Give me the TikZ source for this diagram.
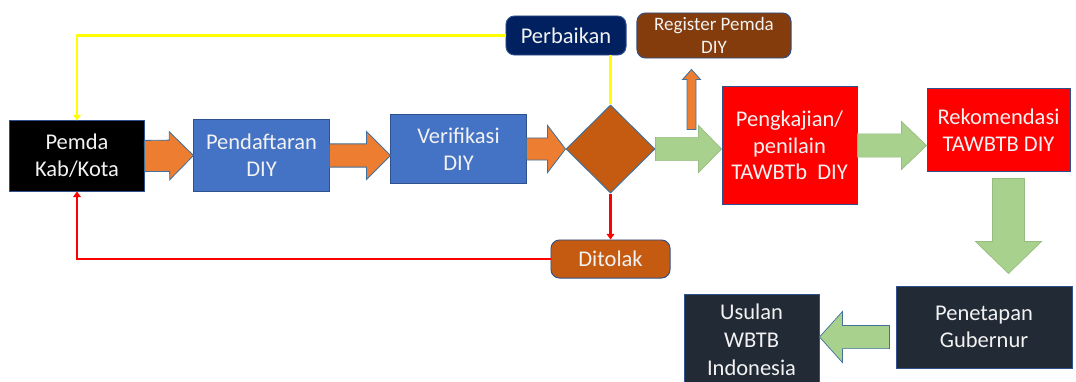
\documentclass[tikz,border=0pt]{standalone}
\usepackage{fontspec}
\setmainfont{Carlito}
\usepackage{xcolor}
\definecolor{boxBlue}{HTML}{4472C4}
\definecolor{edgeBlue}{HTML}{2F528F}
\definecolor{arrowOrange}{HTML}{ED7D31}
\definecolor{arrowEdge}{HTML}{41719C}
\definecolor{rustBrown}{HTML}{C55A11}
\definecolor{darkBrown}{HTML}{843C0C}
\definecolor{navyBlue}{HTML}{002060}
\definecolor{slateDark}{HTML}{222A35}
\definecolor{softGreen}{HTML}{A9D18E}
\definecolor{pureRed}{HTML}{FF0000}
\definecolor{pureYellow}{HTML}{FFFF00}
\definecolor{offWhite}{HTML}{F2F2F2}
\usepackage{tikz}
\usetikzlibrary{shapes, arrows.meta, positioning, calc}

% block arrow: style, start, tip, shaft half width, head half width, head length
\newcommand{\blockArrow}[6]{%
    \coordinate (ba-head) at ($(#3)!#6!(#2)$);
    \draw[#1] ($(#2)!#4!90:(#3)$) -- ($(ba-head)!#4!90:(#3)$) -- ($(ba-head)!#5!90:(#3)$)
        -- (#3) -- ($(ba-head)!#5!-90:(#3)$) -- ($(ba-head)!#4!-90:(#3)$) -- ($(#2)!#4!-90:(#3)$) -- cycle;
}

\begin{document}
\begin{tikzpicture}[
        x=0.025cm, y=-0.025cm,
        baseBox/.style={
            draw=edgeBlue,
            line width=0.7pt,
            inner sep=0pt,
            align=center,
            text=offWhite,
            font=\fontsize{16}{19}\selectfont
        },
        blueBox/.style={baseBox, fill=boxBlue},
        redBox/.style={baseBox, fill=pureRed},
        darkBox/.style={baseBox, fill=slateDark},
        pillBox/.style={baseBox, rounded corners=6pt},
        decisionNode/.style={
            diamond,
            draw=arrowEdge,
            line width=0.7pt,
            fill=rustBrown,
            inner sep=0pt,
            shape aspect=1,
            minimum width=2.225cm,
            minimum height=2.2cm
        },
        orangeArrow/.style={fill=arrowOrange, draw=arrowEdge, line width=0.6pt},
        greenArrow/.style={fill=softGreen, draw=softGreen!90!black, line width=0.5pt},
        returnLine/.style={
            line width=1.7pt,
            -{Triangle[length=4pt, width=5.5pt]}
        }
    ]
    \useasboundingbox (0,0) rectangle (1076,381);

    % Positions (pixel grid of the sheet)
    \node[baseBox, fill=black, minimum width=3.35cm, minimum height=1.75cm] (pemda) at (77,156) {Pemda\\Kab/Kota};
    \node[blueBox, minimum width=3.375cm, minimum height=1.775cm] (daftar) at (261.5,155.5) {Pendaftaran\\DIY};
    \node[blueBox, minimum width=3.375cm, minimum height=1.7cm] (verif) at (458.5,149) {Verifikasi\\DIY};
    \node[decisionNode] (dia) at (610.5,149) {};

    \node[pillBox, fill=navyBlue, draw=edgeBlue, minimum width=3.0cm, minimum height=0.975cm] (perb) at (566,35.5) {Perbaikan};
    \node[pillBox, fill=darkBrown, minimum width=3.85cm, minimum height=1.125cm,
          font=\fontsize{13.5}{16}\selectfont] (reg) at (714,35.5) {Register Pemda\\DIY};
    \node[pillBox, fill=rustBrown, minimum width=2.975cm, minimum height=0.95cm] (ditolak) at (610.5,259) {Ditolak};

    \node[redBox, minimum width=3.375cm, minimum height=2.925cm] (peng) at (789.5,145.5) {Pengkajian/\\penilain\\TAWBTb\ \ DIY};
    \node[redBox, minimum width=3.575cm, minimum height=2.05cm] (rek) at (998.5,130) {Rekomendasi\\TAWBTB DIY};
    \node[darkBox, minimum width=4.4cm, minimum height=2.05cm] (penet) at (984,327) {Penetapan\\Gubernur};
    \node[darkBox, minimum width=3.375cm, minimum height=2.25cm,
          font=\fontsize{16}{20}\selectfont] (usulan) at (751.5,340) {Usulan\\WBTB\\Indonesia};

    % Helper points for the block arrows
    \coordinate (upFrom) at ($(peng.west)+(-30,-16)$);
    \coordinate (regTip) at ($(reg.south)+(-22,11)$);
    \coordinate (upTo) at (upFrom |- regTip);
    \coordinate (downFrom) at ($(rek.south)+(10,7)$);
    \coordinate (gubTop) at ($(penet.north)+(0,-12)$);
    \coordinate (downTo) at (downFrom |- gubTop);
    \coordinate (leftFrom) at ($(penet.west)+(-6,10)$);
    \coordinate (leftTo) at (usulan.east |- leftFrom);

    % Connections (block arrows)
    \blockArrow{orangeArrow}{pemda.east}{daftar.west}{0.39cm}{0.6cm}{0.6cm}
    \blockArrow{orangeArrow}{daftar.east}{daftar.east -| verif.west}{0.29cm}{0.6cm}{0.6cm}
    \blockArrow{orangeArrow}{verif.east}{dia.west}{0.275cm}{0.59cm}{0.45cm}
    \blockArrow{orangeArrow}{upFrom}{upTo}{0.1125cm}{0.225cm}{0.25cm}
    \blockArrow{greenArrow}{dia.east}{dia.east -| peng.west}{0.29cm}{0.59cm}{0.575cm}
    \blockArrow{greenArrow}{peng.east}{peng.east -| rek.west}{0.29cm}{0.6cm}{0.625cm}
    \blockArrow{greenArrow}{downFrom}{downTo}{0.4cm}{0.825cm}{0.8cm}
    \blockArrow{greenArrow, draw=arrowEdge}{leftFrom}{leftTo}{0.29cm}{0.64cm}{0.575cm}

    % Connections (return lines)
    \draw[returnLine, pureYellow] (perb.west) -| (pemda.north);
    \draw[line width=1.7pt, pureYellow] (perb.south -| dia.north) -- (dia.north);
    \draw[returnLine, pureRed] (dia.south) -- (ditolak.north);
    \draw[returnLine, pureRed] (ditolak.west) -| (pemda.south);

\end{tikzpicture}
\end{document}
